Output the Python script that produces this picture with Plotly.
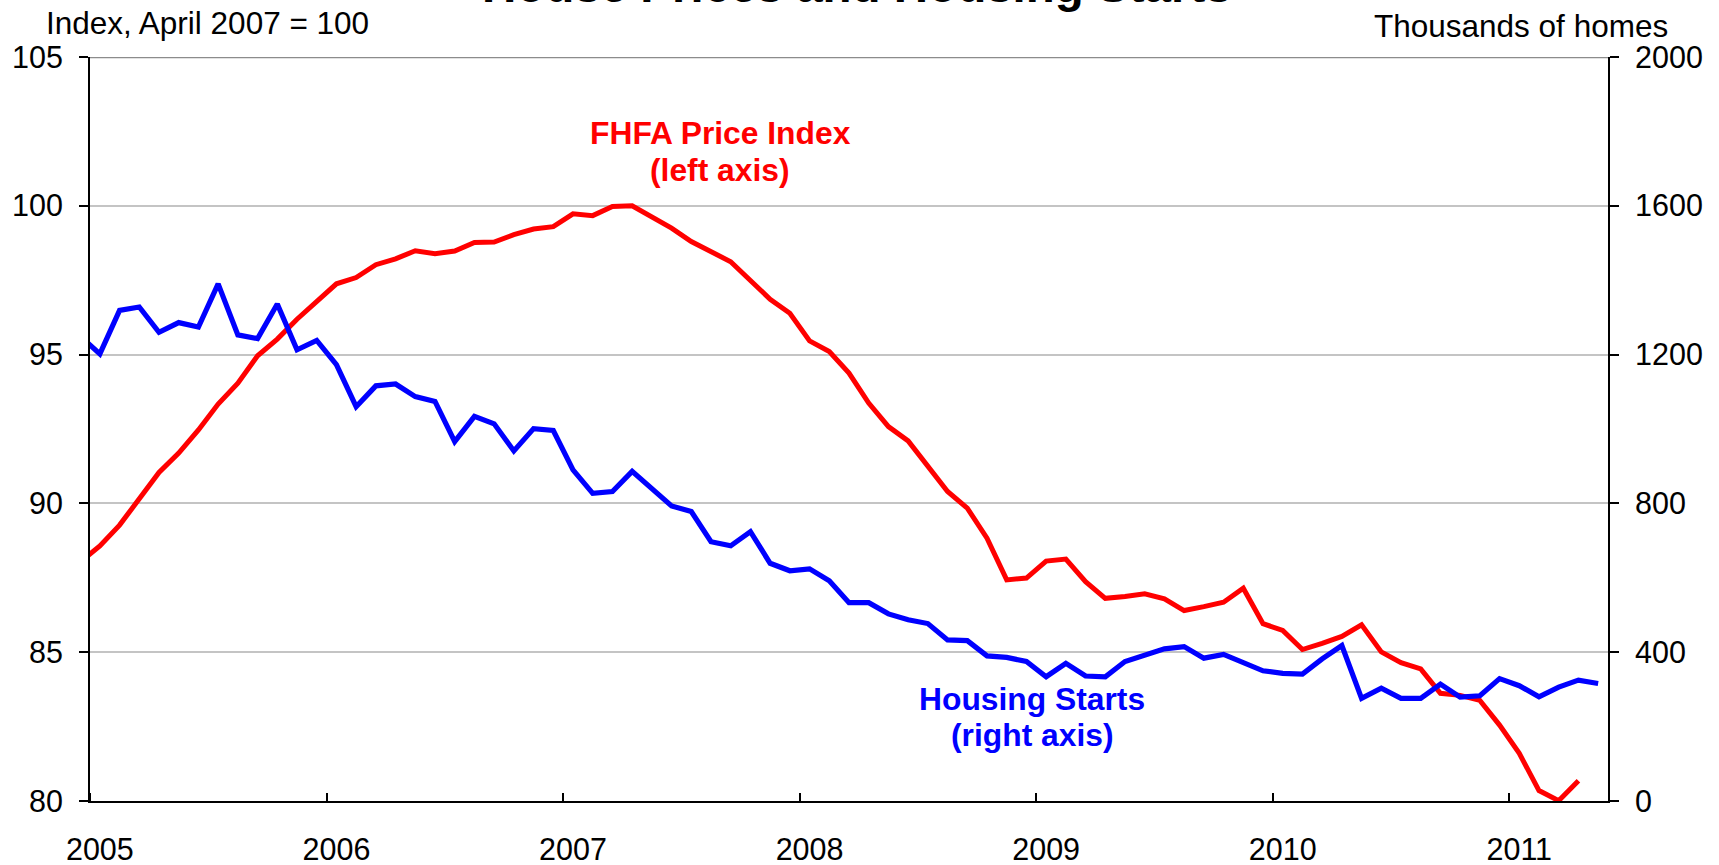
import plotly.graph_objects as go

# ---- data (monthly, Dec 2004 .. May 2011) ----
months = [f"{y}-{m:02d}" for y in range(2004, 2012) for m in range(1, 13)]
months = months[months.index("2004-12"):months.index("2011-05") + 1]

fhfa_index = [
    88.03,                                                                  # Dec 2004
    88.57, 89.27, 90.17, 91.04, 91.69, 92.47, 93.34, 94.04, 94.96, 95.52, 96.19, 96.78,   # 2005
    97.38, 97.59, 98.02, 98.22, 98.49, 98.39, 98.48, 98.77, 98.78, 99.03, 99.22, 99.30,   # 2006
    99.73, 99.67, 99.98, 100.0, 99.63, 99.25, 98.80, 98.45, 98.12, 97.49, 96.86, 96.39,   # 2007
    95.46, 95.10, 94.38, 93.37, 92.58, 92.10, 91.23, 90.40, 89.84, 88.83, 87.43, 87.49,   # 2008
    88.06, 88.13, 87.37, 86.81, 86.87, 86.96, 86.79, 86.40, 86.53, 86.68, 87.15, 85.96,   # 2009
    85.73, 85.09, 85.30, 85.53, 85.92, 85.01, 84.65, 84.44, 83.62, 83.55, 83.38, 82.55,   # 2010
    81.60, 80.35, 80.01, 80.68,                                             # 2011 (Jan-Apr)
]

housing_starts = [
    1250,                                                                   # Dec 2004
    1202, 1319, 1328, 1260, 1286, 1274, 1390, 1253, 1243, 1336, 1213, 1238,   # 2005
    1173, 1060, 1116, 1121, 1087, 1074, 966, 1034, 1014, 941, 1001, 996,      # 2006
    890, 827, 832, 886, 841, 793, 778, 697, 686, 724, 639, 619,               # 2007
    624, 592, 533, 533, 503, 487, 477, 433, 431, 390, 386, 375,               # 2008
    334, 370, 336, 334, 375, 391, 409, 415, 384, 394, 372, 350,               # 2009
    343, 341, 382, 418, 276, 303, 276, 276, 314, 279, 283, 329,               # 2010
    310, 280, 306, 325, 316,                                                  # 2011 (Jan-May)
]

year_labels = ["2005", "2006", "2007", "2008", "2009", "2010", "2011"]
left_ticks = [80, 85, 90, 95, 100, 105]
right_ticks = [0, 400, 800, 1200, 1600, 2000]

# month index: Jan 2005 = 0
start = months.index("2005-01")
x_all = [i - start for i in range(len(months))]
x_red = x_all[:len(fhfa_index)]
x_blue = x_all[:len(housing_starts)]
label_pos = [months.index(f"{y}-01") - start for y in year_labels]
boundary_pos = [p - 0.5 for p in label_pos]

FONT = "Liberation Sans, Arial, sans-serif"
W, H = 1719, 865
ML, MR, MT, MB = 90, 111, 57, 64
PW, PH = W - ML - MR, H - MT - MB


def px_x(px):
    return (px - ML) / PW


def px_y(py):
    return (H - MB - py) / PH


fig = go.Figure()
fig.add_trace(go.Scatter(
    x=x_blue, y=housing_starts, mode="lines", yaxis="y2",
    line=dict(color="#0000FF", width=5.2), name="Housing Starts",
    showlegend=False,
))
fig.add_trace(go.Scatter(
    x=x_red, y=fhfa_index, mode="lines", yaxis="y",
    line=dict(color="#FF0000", width=5), name="FHFA Price Index",
    showlegend=False,
))

fig.update_layout(
    width=W, height=H,
    margin=dict(l=ML, r=MR, t=MT, b=MB, pad=0, autoexpand=False),
    paper_bgcolor="white", plot_bgcolor="white",
    font=dict(family=FONT, color="black", size=30),
    xaxis=dict(
        range=[-0.5, 76.5], automargin=False,
        tickmode="array", tickvals=label_pos, ticktext=year_labels,
        ticks="", ticklen=0, showgrid=False, zeroline=False,
        showline=True, linecolor="black", linewidth=2,
        tickfont=dict(size=30.5), ticklabelstandoff=20,
        minor=dict(tickmode="array", tickvals=boundary_pos, ticks="inside",
                   ticklen=8, tickwidth=2, tickcolor="black", showgrid=False),
    ),
    yaxis=dict(
        range=[80, 105], automargin=False, tickmode="array", tickvals=left_ticks,
        ticktext=[str(v) for v in left_ticks],
        ticks="outside", ticklen=9, tickwidth=2, tickcolor="black",
        showline=True, linecolor="black", linewidth=2,
        showgrid=True, gridcolor="#c4c4c4", gridwidth=2, zeroline=False,
        tickfont=dict(size=30.5), ticklabelstandoff=10,
    ),
    yaxis2=dict(
        range=[0, 2000], automargin=False, tickmode="array", tickvals=right_ticks,
        ticktext=[str(v) for v in right_ticks],
        overlaying="y", side="right",
        ticks="outside", ticklen=9, tickwidth=2, tickcolor="black",
        showline=True, linecolor="black", linewidth=2,
        showgrid=False, zeroline=False,
        tickfont=dict(size=30.5), ticklabelstandoff=10,
    ),
    shapes=[dict(type="line", xref="paper", x0=0, x1=1, yref="y", y0=105, y1=105,
                 line=dict(color="#8c8c8c", width=2.5), layer="above")],
)

annos = [
    dict(text="<b>House Prices and Housing Starts</b>", x=px_x(857), y=px_y(-14),
         xanchor="center", size=47.5, color="black"),
    dict(text="Index, April 2007 = 100", x=px_x(44), y=px_y(23),
         xanchor="left", size=31.5, color="black"),
    dict(text="Thousands of homes", x=px_x(1670), y=px_y(26.5),
         xanchor="right", size=31.5, color="black"),
    dict(text="<b>FHFA Price Index</b>", x=px_x(720), y=px_y(133),
         xanchor="center", size=31.8, color="#FF0000"),
    dict(text="<b>(left axis)</b>", x=px_x(720), y=px_y(170),
         xanchor="center", size=31.8, color="#FF0000"),
    dict(text="<b>Housing Starts</b>", x=px_x(1032), y=px_y(699),
         xanchor="center", size=31.8, color="#0000FF"),
    dict(text="<b>(right axis)</b>", x=px_x(1032), y=px_y(735),
         xanchor="center", size=31.8, color="#0000FF"),
]
for a in annos:
    fig.add_annotation(
        text=a["text"], x=a["x"], y=a["y"], xref="paper", yref="paper",
        xanchor=a["xanchor"], yanchor="middle", showarrow=False,
        font=dict(family=FONT, size=a["size"], color=a["color"]),
    )

fig.write_html(
    "out.html",
    config={"displayModeBar": False},
    post_script="document.body.style.margin='0';document.body.style.overflow='hidden';",
)
